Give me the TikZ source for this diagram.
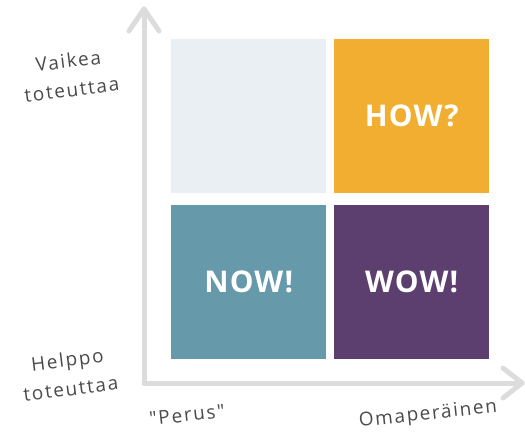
\documentclass[tikz,border=0pt]{standalone}
\usepackage{fontspec}
\setmainfont{Open Sans}
\newfontfamily\labelfont{Open Sans}[LetterSpace=9]
\newfontfamily\cellfont{Open Sans}[LetterSpace=4]
\definecolor{axisgray}{HTML}{DCDCDC}
\definecolor{cellgray}{HTML}{EAEFF3}
\definecolor{cellorange}{HTML}{F2AE30}
\definecolor{cellteal}{HTML}{6699A9}
\definecolor{cellpurple}{HTML}{5C3F6E}
\definecolor{labelgray}{HTML}{4A4A4A}
\begin{document}
\begin{tikzpicture}[x=1bp,y=-1bp,
  cell/.style={minimum width=155bp,minimum height=154bp,inner sep=0pt,anchor=north west,
    text=white,font=\cellfont\fontsize{30}{32}\selectfont\bfseries},
  axis/.style={draw=axisgray,line width=5bp,line cap=round,line join=round},
  lbl/.style={text=labelgray,font=\labelfont\fontsize{19}{29}\selectfont,align=center,inner sep=0pt}]
\useasboundingbox (0,0) rectangle (525,432);
% cells
\node[cell,fill=cellgray] (tl) at (171,39) {};
\node[cell,fill=cellorange] (tr) at (334,39) {HOW?};
\node[cell,fill=cellteal] (bl) at (171,205) {NOW!};
\node[cell,fill=cellpurple] (br) at (334,205) {WOW!};
% axes
\coordinate (o) at (144,383);
\coordinate (ytop) at (144,9);
\coordinate (xend) at (522,383);
\draw[axis] (o) -- (ytop);
\draw[axis] (o) -- (xend);
\draw[axis] ([shift={(-15,22)}]ytop) -- (ytop) -- ([shift={(15,22)}]ytop);
\draw[axis] ([shift={(-19,-15)}]xend) -- (xend) -- ([shift={(-19,15)}]xend);
% labels
\node[lbl,rotate=7] (hard) at (70,75) {Vaikea\\toteuttaa};
\node[lbl,rotate=7] (easy) at (69,374) {Helppo\\toteuttaa};
\node[lbl,rotate=6] (basic) at (187,415) {\char34 Perus\char34};
\node[lbl,rotate=6] (orig) at (428,415) {Omaperäinen};
\end{tikzpicture}
\end{document}
